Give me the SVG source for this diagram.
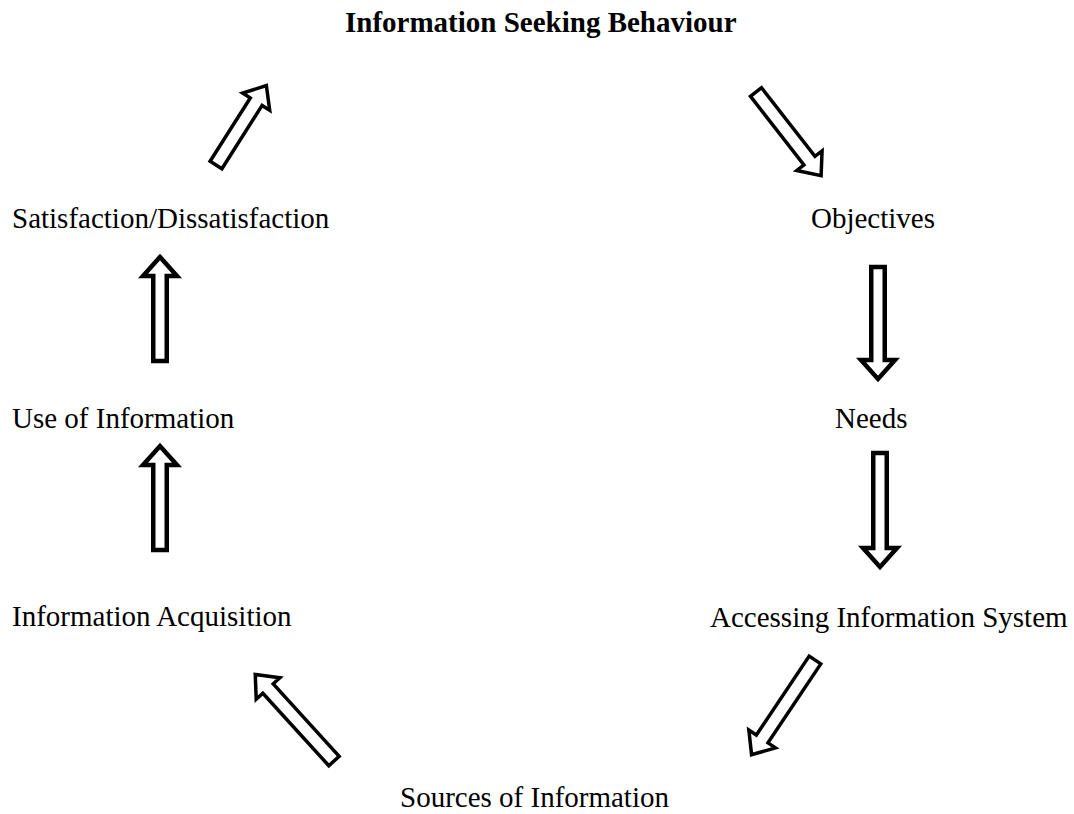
<svg xmlns="http://www.w3.org/2000/svg" width="1074" height="814" viewBox="0 0 1074 814">
<style>
.lbl{font-family:"Liberation Serif","Times New Roman",serif;font-size:29px;fill:#000}
.ttl{font-weight:bold}
.arr{fill:#fff;stroke:#000;stroke-width:3.5;stroke-linejoin:miter}
.vert{stroke-width:4.5}
</style>
<rect width="1074" height="814" fill="#fff"/>
<g id="title"><text class="lbl ttl" x="345" y="32">Information Seeking Behaviour</text></g>
<g id="objectives"><text class="lbl" x="811" y="228">Objectives</text></g>
<g id="needs"><text class="lbl" x="835" y="428">Needs</text></g>
<g id="accessing"><text class="lbl" x="710" y="627">Accessing Information System</text></g>
<g id="sources"><text class="lbl" x="400" y="807">Sources of Information</text></g>
<g id="acquisition"><text class="lbl" x="12" y="626">Information Acquisition</text></g>
<g id="use"><text class="lbl" x="12" y="428">Use of Information</text></g>
<g id="satisfaction"><text class="lbl" x="12" y="228">Satisfaction/Dissatisfaction</text></g>
<g id="connectors">
<polygon class="arr vert" transform="translate(878,267) rotate(90)" points="0,-6.75 93,-6.75 93,-17 112,0 93,17 93,6.75 0,6.75"/>
<polygon class="arr vert" transform="translate(880,453) rotate(90)" points="0,-6.75 95,-6.75 95,-17 114,0 95,17 95,6.75 0,6.75"/>
<polygon class="arr vert" transform="translate(160,361) rotate(-90)" points="0,-6.75 85,-6.75 85,-17 104,0 85,17 85,6.75 0,6.75"/>
<polygon class="arr vert" transform="translate(160,550) rotate(-90)" points="0,-6.75 85,-6.75 85,-17 104,0 85,17 85,6.75 0,6.75"/>
<polygon class="arr" transform="translate(216,165) rotate(-57.6)" points="0,-7 75,-7 75,-16 94,0 75,16 75,7 0,7"/>
<polygon class="arr" transform="translate(756,92) rotate(52.1)" points="0,-7 87,-7 87,-16 106,0 87,16 87,7 0,7"/>
<polygon class="arr" transform="translate(815,660) rotate(123.8)" points="0,-7 95,-7 95,-16 114,0 95,16 95,7 0,7"/>
<polygon class="arr" transform="translate(334,761) rotate(-132.3)" points="0,-7 98,-7 98,-16 117,0 98,16 98,7 0,7"/>
</g>
</svg>
